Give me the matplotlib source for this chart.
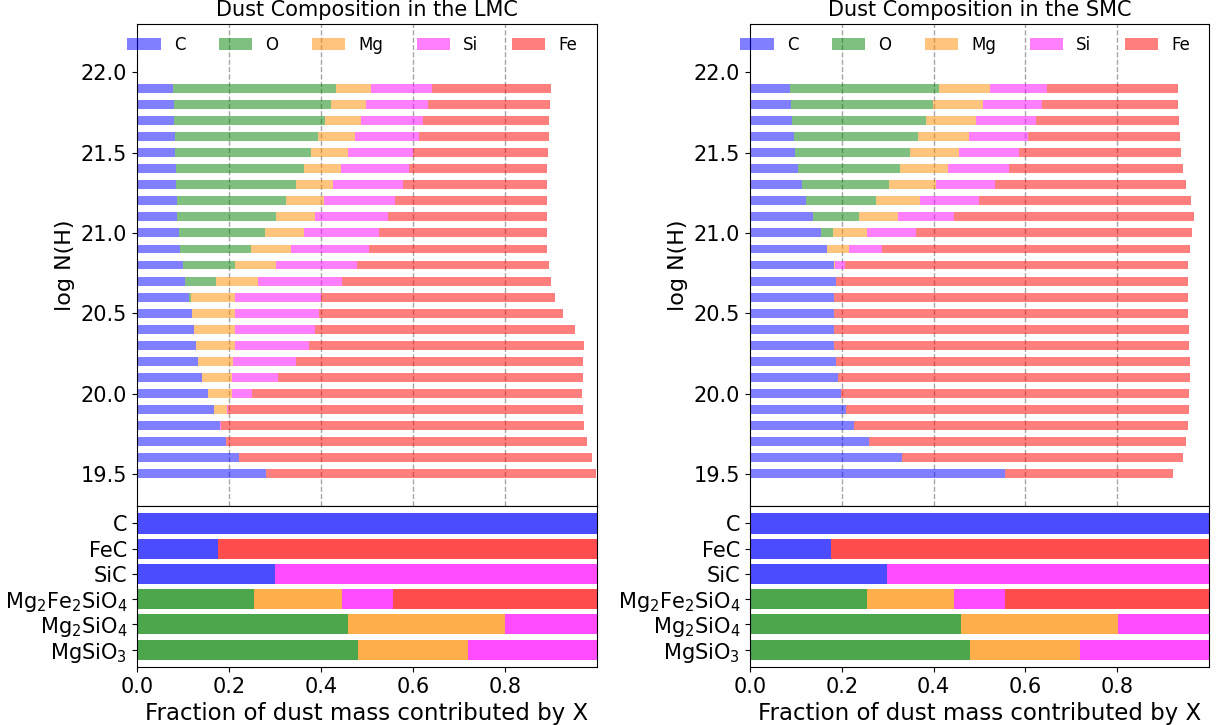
"""
Dust composition (mass fraction by element) in the LMC and SMC.
"""
import numpy as np
import matplotlib
matplotlib.use('Agg')
import matplotlib.pyplot as plt


ELEMENTS = ['C', 'O', 'Mg', 'Si', 'Fe']
COLORS = ['b', 'g', 'darkorange', 'magenta', 'r']

LOGNH = [19.5, 19.6, 19.7, 19.8, 19.9, 20.0, 20.1, 20.2, 20.3, 20.4, 20.5, 20.6, 20.7,
         20.8, 20.9, 21.0, 21.1, 21.2, 21.3, 21.4, 21.5, 21.6, 21.7, 21.8, 21.9]

# LMC: fraction of dust mass per element, bottom (19.5) to top (21.9)
LMC_C = [.281, .222, .194, .181, .167, .154, .141, .132, .128, .123, .119, .114, .105,
         .099, .094, .091, .088, .086, .085, .084, .082, .082, .080, .080, .079]
LMC_O = [0, 0, 0, 0, 0, 0, 0, 0, 0, 0, .001, .003, .067,
         .114, .154, .187, .214, .238, .261, .279, .296, .312, .328, .341, .354]
LMC_MG = [0, 0, 0, 0, .029, .052, .065, .077, .085, .090, .092, .097, .092,
          .090, .087, .084, .085, .083, .080, .080, .081, .080, .078, .077, .076]
LMC_SI = [0, 0, 0, .001, .001, .043, .100, .136, .161, .175, .183, .187, .181,
          .175, .169, .164, .159, .155, .152, .148, .142, .140, .136, .135, .132]
LMC_FE = [.717, .767, .784, .790, .773, .718, .664, .625, .598, .564, .531, .508, .455,
          .418, .387, .365, .345, .329, .313, .300, .292, .282, .274, .265, .259]

# SMC
SMC_C = [.556, .332, .260, .226, .208, .198, .191, .187, .184, .182, .184, .184, .187,
         .184, .168, .154, .137, .122, .113, .104, .099, .095, .092, .089, .087]
SMC_O = [0, 0, 0, 0, 0, 0, 0, 0, 0, 0, 0, 0, 0,
         0, 0, .027, .100, .152, .190, .223, .250, .271, .291, .310, .325]
SMC_MG = [0, 0, 0, 0, 0, 0, 0, 0, 0, 0, 0, 0, 0,
          .002, .047, .074, .085, .096, .102, .105, .106, .110, .110, .109, .111]
SMC_SI = [0, 0, 0, 0, 0, 0, 0, 0, 0, 0, 0, 0, .001,
          .020, .072, .106, .122, .129, .129, .132, .132, .129, .130, .128, .125]
SMC_FE = [.366, .611, .690, .728, .748, .758, .768, .772, .772, .774, .770, .770, .766,
          .748, .672, .602, .523, .462, .416, .379, .352, .332, .312, .296, .284]

# mass fraction of each element in the grain species
SPECIES = ['C', 'FeC', 'SiC', r'Mg$_2$Fe$_2$SiO$_4$', r'Mg$_2$SiO$_4$', r'MgSiO$_3$']
SP_C = [1.0, .177, .299, 0, 0, 0]
SP_O = [0, 0, 0, .254, .459, .480]
SP_MG = [0, 0, 0, .191, .342, .240]
SP_SI = [0, 0, .701, .111, .199, .280]
SP_FE = [0, .823, 0, .444, 0, 0]

FIGW = 12.19
FIGH = 7.25


def stacked_barh(ax, y, parts, height, alpha, labels=None):
    left = np.zeros(len(y))
    for i, (w, c) in enumerate(zip(parts, COLORS)):
        w = np.asarray(w, dtype=float)
        lab = labels[i] if labels is not None else None
        ax.barh(y, w, height=height, left=left, color=c, alpha=alpha,
                label=lab, linewidth=0)
        left += w


def draw_galaxy(fig, x0, width, parts, name):

    top = fig.add_axes([x0, 0.302, width, 0.6649])
    bot = fig.add_axes([x0, 0.080, width, 0.222], sharex=top)

    stacked_barh(top, LOGNH, parts, 0.055, 0.5, labels=ELEMENTS)
    for xv in [0.2, 0.4, 0.6, 0.8]:
        top.axvline(xv, color='gray', ls='--', lw=1, alpha=0.7, zorder=0)
    top.set_ylim(19.3, 22.3)
    top.set_yticks([19.5, 20.0, 20.5, 21.0, 21.5, 22.0])
    top.tick_params(axis='y', labelsize=15)
    top.tick_params(axis='x', bottom=False, labelbottom=False)
    top.set_ylabel('log N(H)', fontsize=16)
    top.set_title('Dust Composition in the ' + name, fontsize=15)
    top.legend(ncol=5, frameon=False, fontsize=12, loc='upper left',
               bbox_to_anchor=(-0.054, 1.006))

    ypos = np.arange(len(SPECIES))
    stacked_barh(bot, ypos, [SP_C, SP_O, SP_MG, SP_SI, SP_FE], 0.8, 0.7)
    bot.set_yticks(ypos)
    bot.set_yticklabels(SPECIES)
    bot.invert_yaxis()
    bot.set_xlim(0, 1.0)
    bot.set_xticks([0.0, 0.2, 0.4, 0.6, 0.8])
    bot.tick_params(labelsize=15)
    bot.set_xlabel('Fraction of dust mass contributed by X', fontsize=16.5)
    return top, bot


if __name__ == "__main__":

    fig = plt.figure(figsize=(FIGW, FIGH), dpi=100)
    draw_galaxy(fig, 0.1124, 0.3773,
                [LMC_C, LMC_O, LMC_MG, LMC_SI, LMC_FE], 'LMC')
    draw_galaxy(fig, 0.6153, 0.3765,
                [SMC_C, SMC_O, SMC_MG, SMC_SI, SMC_FE], 'SMC')
    fig.savefig('out.png', dpi=100)
